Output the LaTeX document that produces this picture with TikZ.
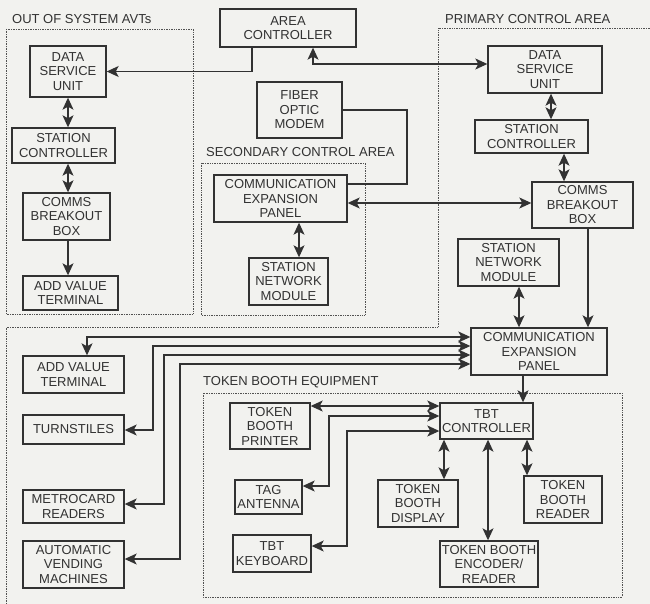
\documentclass[tikz,border=0pt]{standalone}
\usepackage{fontspec}
\setmainfont{Liberation Sans}
\usetikzlibrary{arrows.meta}
\definecolor{paper}{RGB}{242,242,239}
\definecolor{ink}{RGB}{50,50,50}
\begin{document}
\begin{tikzpicture}[x=1pt,y=-1pt,
  unit/.style={draw=ink,line width=1.4pt,align=center,inner sep=0.5pt,text=ink,
    font=\fontsize{13}{14.5}\selectfont},
  area/.style={draw=ink!85,densely dotted,line width=0.7pt},
  title/.style={anchor=west,inner sep=0pt,text=ink,font=\fontsize{13}{14.5}\selectfont},
  link/.style={draw=ink,line width=1.1pt},
  dbl/.style={link,{Stealth[length=12pt,width=11pt,inset=3pt]}-{Stealth[length=12pt,width=11pt,inset=3pt]}},
  one/.style={link,-{Stealth[length=12pt,width=11pt,inset=3pt]}}]
\fill[paper] (0,0) rectangle (650,604);
\useasboundingbox (0,0) rectangle (650,604);

\draw[area] (6,29) rectangle (193,314);
\draw[area] (201,163) rectangle (365,315);
\draw[area] (203,393) rectangle (622,597);
\draw[area] (650,28) -- (438,28) -- (438,327) -- (6,327) -- (6,604);

\node[title] (tOut) at (12,19) {OUT OF SYSTEM AVTs};
\node[title] (tSec) at (206,152) {SECONDARY CONTROL AREA};
\node[title] (tPri) at (445,19) {PRIMARY CONTROL AREA};
\node[title] (tTok) at (203,382) {TOKEN BOOTH EQUIPMENT};

\node[unit,minimum width=76pt,minimum height=51pt] (dsuA) at (68,71.5) {DATA\\SERVICE\\UNIT};
\node[unit,minimum width=103pt,minimum height=35pt] (scA) at (63.5,145.5) {STATION\\CONTROLLER};
\node[unit,minimum width=87pt,minimum height=47pt] (cbbA) at (66.5,216.5) {COMMS\\BREAKOUT\\BOX};
\node[unit,minimum width=95pt,minimum height=34pt] (avtA) at (70.5,293) {ADD VALUE\\TERMINAL};

\node[unit,minimum width=136pt,minimum height=38pt] (ac) at (288,28) {AREA\\CONTROLLER};
\node[unit,minimum width=85pt,minimum height=56pt] (fom) at (299.5,110) {FIBER\\OPTIC\\MODEM};
\node[unit,minimum width=133pt,minimum height=47pt] (cepS) at (280.5,198.5) {COMMUNICATION\\EXPANSION\\PANEL};
\node[unit,minimum width=79pt,minimum height=47pt] (snmS) at (288.5,281.5) {STATION\\NETWORK\\MODULE};

\node[unit,minimum width=114pt,minimum height=47pt] (dsuP) at (545,69.5) {DATA\\SERVICE\\UNIT};
\node[unit,minimum width=113pt,minimum height=33pt] (scP) at (531.5,136.5) {STATION\\CONTROLLER};
\node[unit,minimum width=101pt,minimum height=46pt] (cbbP) at (582.5,205) {COMMS\\BREAKOUT\\BOX};
\node[unit,minimum width=101pt,minimum height=47pt] (snmP) at (508.5,262.5) {STATION\\NETWORK\\MODULE};
\node[unit,minimum width=136pt,minimum height=47pt] (cepP) at (539,351.5) {COMMUNICATION\\EXPANSION\\PANEL};

\node[unit,minimum width=101pt,minimum height=37pt] (avtB) at (73.5,374.5) {ADD VALUE\\TERMINAL};
\node[unit,minimum width=101pt,minimum height=29pt] (turn) at (73.5,429.5) {TURNSTILES};
\node[unit,minimum width=101pt,minimum height=33pt] (mcr) at (73.5,506.5) {METROCARD\\READERS};
\node[unit,minimum width=101pt,minimum height=47pt] (avm) at (73.5,564.5) {AUTOMATIC\\VENDING\\MACHINES};

\node[unit,minimum width=93pt,minimum height=36pt] (tbt) at (486.5,421) {TBT\\CONTROLLER};
\node[unit,minimum width=80pt,minimum height=46pt] (tbp) at (270,426) {TOKEN\\BOOTH\\PRINTER};
\node[unit,minimum width=67pt,minimum height=34pt] (tag) at (268.5,497) {TAG\\ANTENNA};
\node[unit,minimum width=78pt,minimum height=37pt] (kbd) at (272,553.5) {TBT\\KEYBOARD};
\node[unit,minimum width=80pt,minimum height=47pt] (tbd) at (418,503.5) {TOKEN\\BOOTH\\DISPLAY};
\node[unit,minimum width=78pt,minimum height=47pt] (tbr) at (563,499.5) {TOKEN\\BOOTH\\READER};
\node[unit,minimum width=98pt,minimum height=46pt] (tbe) at (489,564) {TOKEN BOOTH\\ENCODER/\\READER};

\draw[dbl] (dsuA.south) -- (dsuA.south |- scA.north);
\draw[dbl] (scA.south -| dsuA.south) -- (cbbA.north -| dsuA.south);
\draw[one] (cbbA.south -| dsuA.south) -- (avtA.north -| dsuA.south);

\draw[one] (ac.south -| 252,0) |- (dsuA.east);
\draw[dbl] (ac.south -| 313,0) |- (dsuP.west |- 0,64);
\draw[link] (fom.east) -| (407,184) -- (cepS.east |- 0,184);
\draw[dbl] (cepS.east |- 0,203) -- (cbbP.west |- 0,203);
\draw[dbl] (cepS.south -| 299,0) -- (snmS.north -| 299,0);

\draw[dbl] (dsuP.south -| 551,0) -- (scP.north -| 551,0);
\draw[dbl] (scP.south -| 564,0) -- (cbbP.north -| 564,0);
\draw[dbl] (snmP.south -| 519,0) -- (cepP.north -| 519,0);
\draw[one] (cbbP.south -| 588,0) -- (cepP.north -| 588,0);
\draw[one] (cepP.south -| 523,0) -- (tbt.north -| 523,0);

\draw[dbl] (cepP.west |- 0,337) -| (avtB.north -| 87,0);
\draw[dbl] (cepP.west |- 0,346) -| (153,430) -- (turn.east |- 0,430);
\draw[dbl] (cepP.west |- 0,355) -| (164,504) -- (mcr.east |- 0,504);
\draw[dbl] (cepP.west |- 0,364) -| (180,559) -- (avm.east |- 0,559);

\draw[dbl] (tbp.east |- 0,406) -- (tbt.west |- 0,406);
\draw[dbl] (tbt.west |- 0,416) -| (329,486) -- (tag.east |- 0,486);
\draw[dbl] (tbt.west |- 0,431) -| (347,546) -- (kbd.east |- 0,546);
\draw[dbl] (tbt.south -| 444,0) -- (tbd.north -| 444,0);
\draw[dbl] (tbt.south -| 488,0) -- (tbe.north -| 488,0);
\draw[dbl] (tbt.south -| 527,0) -- (tbr.north -| 527,0);
\end{tikzpicture}
\end{document}
